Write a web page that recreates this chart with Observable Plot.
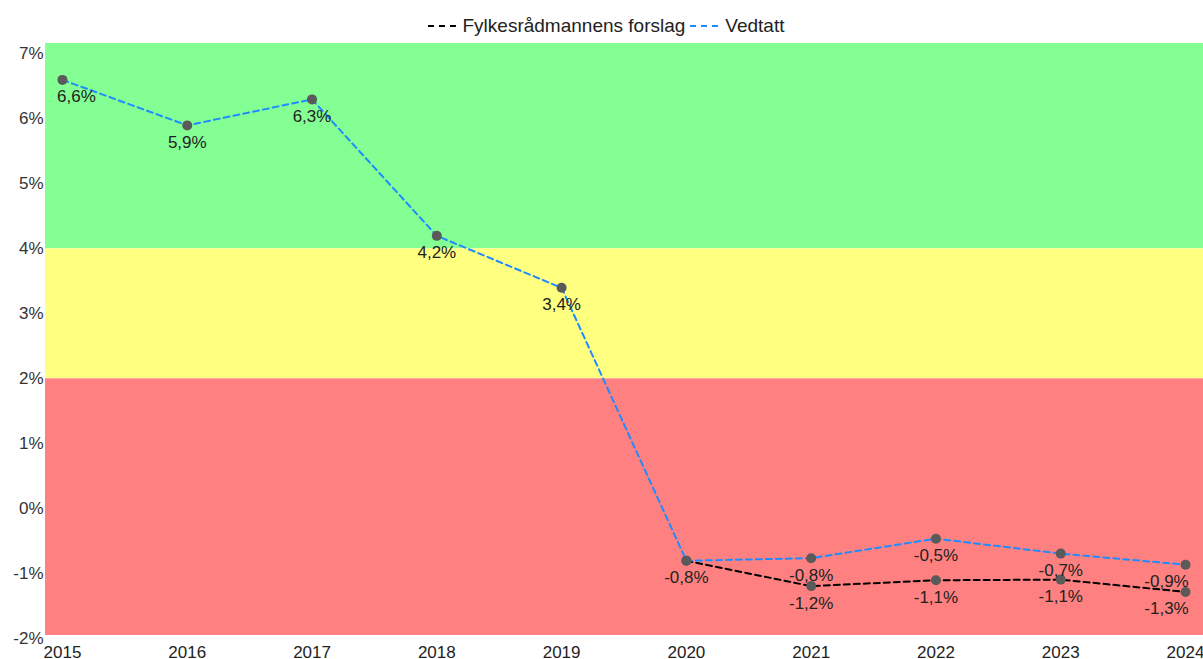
<!DOCTYPE html>
<html>
<head>
<meta charset="utf-8">
<script src="https://cdn.jsdelivr.net/npm/d3@7"></script>
<script src="https://cdn.jsdelivr.net/npm/@observablehq/plot@0.6"></script>
<style>
  html, body { margin: 0; padding: 0; background: #fff; }
  body { width: 1203px; height: 659px; overflow: hidden; font-family: Arial, "Liberation Sans", sans-serif; }
  #legend { height: 35px; display: flex; justify-content: center; align-items: center; font-size: 19px; color: #222; padding-top: 16px; padding-left: 8px; box-sizing: border-box; line-height: 1; }
  #legend .item { display: flex; align-items: center; margin: 0 2px; }
  #legend svg { margin-right: 5px; }
  #chart svg { display: block; }
</style>
</head>
<body>
<div id="legend"></div>
<div id="chart"></div>
<script>
const years = [2015, 2016, 2017, 2018, 2019, 2020, 2021, 2022, 2023, 2024];
const vedtatt = [6.6, 5.9, 6.3, 4.2, 3.4, -0.8, -0.76, -0.46, -0.69, -0.86];
const forslagYears = [2020, 2021, 2022, 2023, 2024];
const forslag = [-0.8, -1.19, -1.1, -1.09, -1.28];
const yTicks = [-2, -1, 0, 1, 2, 3, 4, 5, 6, 7];
const seriesNames = ["Fylkesrådmannens forslag", "Vedtatt"];
const seriesColors = ["#000000", "#1e8cff"];
const bandLo = [4, 2, -2];
const bandHi = [8, 4, 2];
const bandColors = ["#84ff94", "#ffff80", "#ff8080"];

const vData = years.map((y, i) => ({year: y, value: vedtatt[i]}));
const fData = forslagYears.map((y, i) => ({year: y, value: forslag[i]}));
const bands = bandLo.map((lo, i) => ({lo, hi: bandHi[i], color: bandColors[i]}));

const xDomain = [2014.864, 2024.144];
const yDomain = [-1.95, 7.16];
const fmt = v => v.toFixed(1).replace(".", ",") + "%";

// legend
const legend = document.getElementById("legend");
seriesNames.forEach((name, i) => {
  const item = document.createElement("div");
  item.className = "item";
  item.innerHTML = `<svg width="31" height="10"><line x1="1" y1="5" x2="30" y2="5" stroke="${seriesColors[i]}" stroke-width="2" stroke-dasharray="6,5"/></svg><span>${name}</span>`;
  legend.appendChild(item);
});

// value labels: clamp labels at the edges of the plot
function labels(data) {
  const first = years[0], last = years[years.length - 1];
  const common = {x: "year", y: "value", text: d => fmt(d.value), dy: 17, fontSize: 17, fill: "#222"};
  return [
    Plot.text(data.filter(d => d.year === first), {...common, dx: 14}),
    Plot.text(data.filter(d => d.year !== first && d.year !== last), common),
    Plot.text(data.filter(d => d.year === last), {...common, dx: -19})
  ];
}

const chart = Plot.plot({
  width: 1203,
  height: 624,
  marginTop: 8,
  marginBottom: 24,
  marginLeft: 45,
  marginRight: 0,
  style: {fontFamily: "Arial, 'Liberation Sans', sans-serif", fontSize: "17px", color: "#333", background: "#fff", overflow: "visible"},
  x: {type: "linear", domain: xDomain, axis: null},
  y: {domain: yDomain, axis: null},
  color: {type: "identity"},
  marks: [
    Plot.rect(bands, {x1: () => xDomain[0], x2: () => xDomain[1], y1: "lo", y2: "hi", fill: "color", clip: true}),
    Plot.axisX({ticks: years, tickFormat: d => String(d), tickSize: 0, tickPadding: 10, fontSize: 17, fill: "#222", label: null}),
    Plot.axisY({ticks: yTicks, tickFormat: d => d + "%", tickSize: 0, tickPadding: 2, fontSize: 17, fill: "#333", label: null}),
    Plot.line(fData, {x: "year", y: "value", stroke: seriesColors[0], strokeWidth: 2, strokeDasharray: "6,4"}),
    Plot.line(vData, {x: "year", y: "value", stroke: seriesColors[1], strokeWidth: 2, strokeDasharray: "6,4"}),
    Plot.dot(fData, {x: "year", y: "value", r: 5, fill: "#5a5a5a", stroke: "none"}),
    Plot.dot(vData, {x: "year", y: "value", r: 5, fill: "#5a5a5a", stroke: "none"}),
    ...labels(vData),
    ...labels(fData.filter(d => d.year !== 2020))
  ]
});
document.getElementById("chart").appendChild(chart);
</script>
</body>
</html>
